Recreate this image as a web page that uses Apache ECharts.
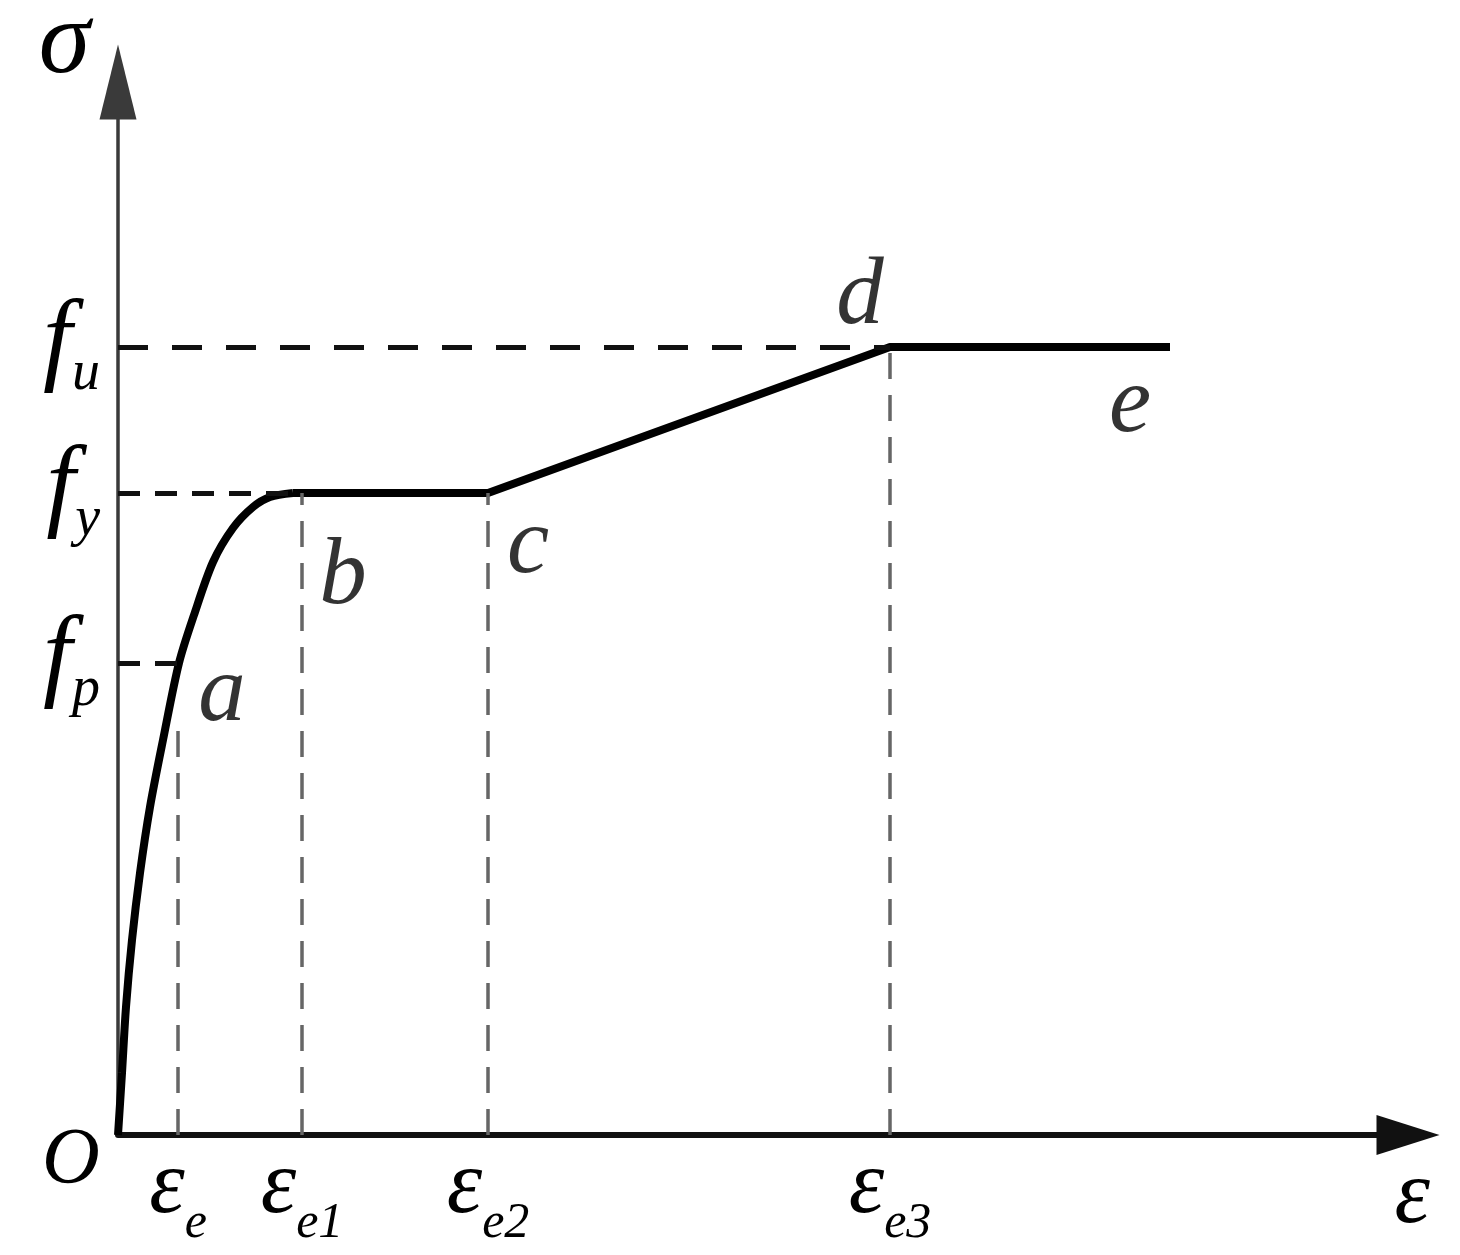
<!DOCTYPE html>
<html>
<head>
<meta charset="utf-8">
<style>
html,body{margin:0;padding:0;background:#fff;}
#main{width:1460px;height:1255px;}
</style>
<script src="https://cdn.jsdelivr.net/npm/echarts@6/dist/echarts.min.js"></script>
</head>
<body>
<div id="main"></div>
<script>
// 应力-应变曲线 (σ-ε)
var serif = '"Liberation Serif","DejaVu Serif",serif';

// 应变刻度 ε_e, ε_e1, ε_e2, ε_e3
var strainTicks = [60, 184, 370, 772];
var strainTickNames = ['e', 'e1', 'e2', 'e3'];
// 应力刻度 f_p, f_y, f_u
var stressTicks = [472, 642, 788];
var stressTickNames = ['p', 'y', 'u'];

// 弹塑性段 O -> a -> b
var curveX = [0, 4, 8, 14, 22, 32, 45, 61, 76, 95, 115, 135, 152, 175];
var curveY = [0, 62, 128, 195, 262, 328, 395, 472, 520, 573, 607, 628, 638, 642];
// 线性段 b -> c -> d -> e
var lineX = [175, 370, 772, 1052];
var lineY = [642, 642, 788, 788];

// 虚线端点
var hLineEnd = [60, 172, 772];
var vLineTop = [418, 642, 642, 788];

// 点标注
var pointNames = ['a', 'b', 'c', 'd', 'e'];
var pointX = [104, 225, 410, 742, 1012];
var pointY = [440, 557, 588, 837, 729];

var zip = function (xs, ys) {
  var out = [];
  for (var i = 0; i < xs.length; i++) out.push([xs[i], ys[i]]);
  return out;
};

var dashLines = [];
for (var i = 0; i < stressTicks.length; i++) {
  dashLines.push([
    {coord: [0, stressTicks[i]], lineStyle: {color: '#111', width: 5, type: i == 2 ? [30, 24] : [22, 15]}},
    {coord: [hLineEnd[i], stressTicks[i]]}
  ]);
}
for (var j = 0; j < strainTicks.length; j++) {
  dashLines.push([
    {coord: [strainTicks[j], 0], lineStyle: {color: '#666', width: 3.5, type: [26, 16]}},
    {coord: [strainTicks[j], vLineTop[j]]}
  ]);
}

var chart = echarts.init(document.getElementById('main'));

chart.setOption({
  backgroundColor: '#fff',
  animation: false,
  grid: {left: 118, right: 52, top: 82, bottom: 120, containLabel: false, outerBoundsMode: 'none'},
  xAxis: {
    type: 'value',
    min: 0,
    max: 1290,
    name: 'ε',
    nameLocation: 'end',
    nameGap: 22,
    nameTextStyle: {fontFamily: serif, fontStyle: 'italic', fontSize: 90, color: '#000',
      align: 'right', verticalAlign: 'top', padding: [18, 0, 0, 0]},
    splitLine: {show: false},
    axisTick: {show: false},
    axisLine: {
      lineStyle: {color: '#111', width: 6},
      symbol: ['none', 'triangle'],
      symbolSize: [40, 63]
    },
    axisLabel: {
      customValues: strainTicks,
      margin: 8,
      formatter: function (v) {
        return '{e|ε}{s|' + strainTickNames[strainTicks.indexOf(v)] + '}';
      },
      rich: {
        e: {fontFamily: serif, fontStyle: 'italic', fontSize: 90, color: '#000', verticalAlign: 'top'},
        s: {fontFamily: serif, fontStyle: 'italic', fontSize: 50, color: '#000', verticalAlign: 'top', padding: [56, 0, 0, 0]}
      }
    }
  },
  yAxis: {
    type: 'value',
    min: 0,
    max: 1053,
    name: 'σ',
    nameLocation: 'end',
    nameGap: 37,
    nameTextStyle: {fontFamily: serif, fontStyle: 'italic', fontSize: 104, color: '#000',
      align: 'right', verticalAlign: 'middle', padding: [0, 28, 0, 0]},
    splitLine: {show: false},
    axisTick: {show: false},
    axisLine: {
      lineStyle: {color: '#3a3a3a', width: 3.5},
      symbol: ['none', 'triangle'],
      symbolSize: [37, 75]
    },
    axisLabel: {
      customValues: stressTicks,
      margin: 18,
      formatter: function (v) {
        return '{f|f}{s|' + stressTickNames[stressTicks.indexOf(v)] + '}';
      },
      rich: {
        f: {fontFamily: serif, fontStyle: 'italic', fontSize: 104, color: '#000', verticalAlign: 'top'},
        s: {fontFamily: serif, fontStyle: 'italic', fontSize: 56, color: '#000', verticalAlign: 'top', padding: [54, 0, 0, 0]}
      }
    }
  },
  graphic: [{
    type: 'text',
    left: 42,
    top: 1122,
    style: {text: 'O', font: 'italic 80px ' + serif, fill: '#000'}
  }],
  series: [
    {
      name: 'curve',
      type: 'line',
      smooth: 0.3,
      showSymbol: false,
      data: zip(curveX, curveY),
      lineStyle: {color: '#000', width: 8},
      markLine: {
        silent: true,
        symbol: 'none',
        label: {show: false},
        data: dashLines
      },
      z: 3
    },
    {
      name: 'linear',
      type: 'line',
      showSymbol: false,
      data: zip(lineX, lineY),
      lineStyle: {color: '#000', width: 8},
      z: 3
    },
    {
      name: 'points',
      type: 'scatter',
      symbolSize: 0,
      data: zip(pointX, pointY),
      label: {
        show: true,
        position: 'inside',
        formatter: function (p) { return pointNames[p.dataIndex]; },
        fontFamily: serif,
        fontStyle: 'italic',
        fontSize: 95,
        color: '#000'
      },
      emphasis: {disabled: true}
    }
  ]
});
</script>
</body>
</html>
